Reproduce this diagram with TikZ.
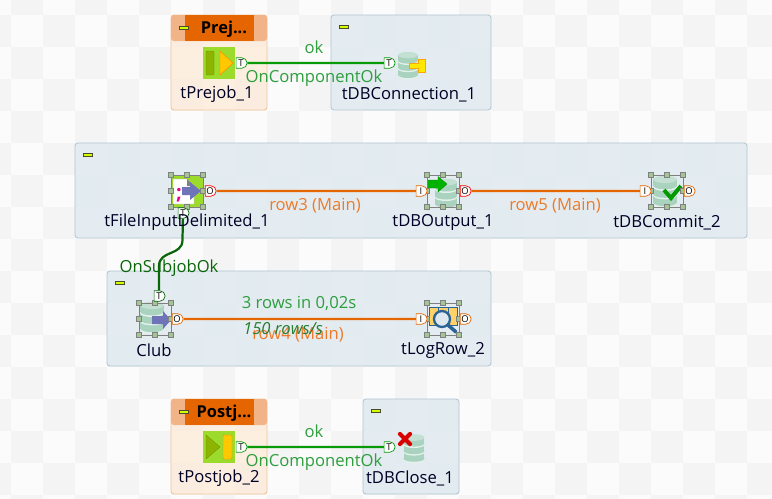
\documentclass[tikz,border=0pt]{standalone}
\usepackage{fontspec}
\setmainfont{Open Sans}
\usetikzlibrary{shapes.misc}
\definecolor{talendorange}{HTML}{E56500}
\definecolor{talendgreen}{HTML}{089A08}
\definecolor{darkgreen}{HTML}{0A660A}
\definecolor{limeicon}{HTML}{9CDB2B}
\definecolor{dbgreen}{HTML}{A9D3BE}
\definecolor{labelgreen}{HTML}{2E9E3E}
\definecolor{labelorange}{HTML}{EE7A28}
\definecolor{tilelight}{HTML}{FBFBFB}
\definecolor{tiledark}{HTML}{F4F4F4}
\definecolor{jobblue}{HTML}{DDE8EE}
\definecolor{jobblueline}{HTML}{B2C5D2}
\definecolor{jobcream}{HTML}{FDEBD8}
\definecolor{jobcreamline}{HTML}{F2C595}
\definecolor{headerside}{HTML}{F0B488}
\definecolor{oliveicon}{HTML}{8CB400}
\definecolor{goldicon}{HTML}{FFC800}
\definecolor{handlegreen}{HTML}{A3C493}
\definecolor{arrowblue}{HTML}{6F74B8}
\definecolor{lensblue}{HTML}{2A6496}
\tikzset{
  compname/.style={font=\fontsize{14.2}{16}\selectfont,text=black!85!blue,inner sep=0pt},
  linklabel/.style={font=\fontsize{14.2}{16}\selectfont,inner sep=0pt},
  port/.style={rounded rectangle,rounded rectangle left arc=none,draw=#1,fill=white,line width=.6pt,
    minimum width=.33cm,minimum height=.31cm,inner sep=0pt,font=\fontsize{8}{8}\selectfont},
  subjob/.style={draw=#1,rounded corners=2.5pt,line width=.7pt},
  handle/.style={draw=gray,fill=handlegreen,line width=.3pt},
  link/.style={line width=1.9pt},
}
\newcommand{\dbstack}[2]{% centre, then scale
  \begin{scope}[shift={(#1)},scale=#2]
  \foreach \yy in {8,0,-8} {
    \fill[white!70!dbgreen] (0,\yy+4.5) ellipse[x radius=11,y radius=3.5];
    \fill[dbgreen] (-11,\yy-3) rectangle (11,\yy+3);
    \fill[dbgreen] (0,\yy+3) ellipse[x radius=11,y radius=3.5];
  }
  \fill[dbgreen!70!white] (0,-11) ellipse[x radius=11,y radius=3.5];
  \end{scope}}
\newcommand{\handles}[1]{% selection frame round an icon
  \begin{scope}[shift={(#1)}]
  \draw[gray,line width=.5pt] (-16,-16) rectangle (16,16);
  \foreach \hx in {-16,0,16} \foreach \hy in {-16,0,16} {
    \ifnum\hx=0 \ifnum\hy=0 \else \filldraw[handle] (\hx-2.5,\hy-2.5) rectangle (\hx+2.5,\hy+2.5); \fi
    \else \filldraw[handle] (\hx-2.5,\hy-2.5) rectangle (\hx+2.5,\hy+2.5); \fi}
  \end{scope}}
\newcommand{\minus}[1]{\filldraw[draw=black!60!olive,fill=lime!70!yellow,line width=.4pt] (#1) ++(0,-1.5) rectangle ++(9,3);}
\begin{document}
\begin{tikzpicture}[x=0.03cm,y=-0.03cm]
\useasboundingbox (0,0) rectangle (772,499);
% background tiles
\fill[tilelight] (0,0) rectangle (772,499);
\foreach \i in {-1,...,24} \foreach \j in {-1,...,15} {
  \pgfmathtruncatemacro{\tileodd}{mod(\i+\j+32,2)}
  \ifnum\tileodd=1 \fill[tiledark] (11+32*\i,15+32*\j) rectangle ++(32,32); \fi
}
% subjobs
\fill[jobcream,fill opacity=.75,rounded corners=2.5pt] (171,15) rectangle (267,110);
\fill[jobcream,fill opacity=.75,rounded corners=2.5pt] (171,399) rectangle (267,494);
\draw[subjob=jobcreamline] (171,15) rectangle (267,110);
\draw[subjob=jobcreamline] (171,399) rectangle (267,494);
\foreach \xa/\ya/\xb/\yb in {331/15/491/110,75/143/747/238,107/271/491/366,363/399/459/494} {
  \fill[jobblue,fill opacity=.75,rounded corners=2.5pt] (\xa,\ya) rectangle (\xb,\yb);
  \draw[subjob=jobblueline] (\xa,\ya) rectangle (\xb,\yb);
}
% headers
\foreach \ya in {15,399} {
  \fill[headerside,rounded corners=2.5pt] (171,\ya) rectangle (267,\ya+26);
  \fill[talendorange] (185,\ya) rectangle (254,\ya+26);
}
\node[font=\fontsize{14}{16}\selectfont\bfseries,inner sep=0pt] (prejobtitle) at (224,29) {Prej...};
\node[font=\fontsize{14}{16}\selectfont\bfseries,inner sep=0pt] (postjobtitle) at (224,413) {Postj...};
\minus{179,28} \minus{339,27} \minus{83,155} \minus{115,283} \minus{179,412} \minus{371,411}
% icons
\fill[limeicon] (203,47) rectangle (235,79);
\filldraw[fill=oliveicon,draw=oliveicon!80!black,line width=.3pt,rounded corners=1pt] (206,51) rectangle (214,75);
\filldraw[fill=goldicon,draw=orange,line width=.3pt] (220,51) -- (233,63) -- (220,75) -- cycle;
\fill[limeicon] (203,431) rectangle (235,463);
\filldraw[fill=oliveicon,draw=oliveicon!80!black,line width=.3pt] (206,435) -- (220,447) -- (206,459) -- cycle;
\filldraw[fill=goldicon,draw=orange,line width=.3pt,rounded corners=1pt] (223,435) rectangle (232,459);
\dbstack{408,65}{.9}
\filldraw[fill=yellow!90!orange,draw=orange!70!yellow,line width=.5pt] (409,63.5) -- (418,63.5) -- (418,59.5) -- (425,59.5) -- (425,72) -- (418,72) -- (418,68.5) -- (409,68.5) -- cycle;
\dbstack{414,448}{.95}
\draw[red!85!black,line width=3.6pt,line cap=round] (400,434) -- (410,444) (410,434) -- (400,444);
% tFileInputDelimited
\fill[limeicon] (171,175) rectangle (204,207);
\filldraw[fill=white,draw=gray!70,line width=.3pt] (173,179) -- (187,179) -- (194,186) -- (194,204) -- (173,204) -- cycle;
\fill[gray] (187,179) -- (194,186) -- (187,186) -- cycle;
\node[text=magenta,font=\fontsize{17}{17}\selectfont\bfseries,inner sep=0pt] (semicolon) at (179,195) {;};
\fill[arrowblue] (190,187) -- (190,182) -- (201,191) -- (190,200) -- (190,195) -- (182,195) -- (182,187) -- cycle;
\handles{187,191}
% tDBOutput
\dbstack{446,193}{1}
\filldraw[fill=green!70!black,draw=green!55!black,line width=.3pt] (428,188) -- (428,180) -- (438,180) -- (438,176.5) -- (447,184) -- (438,192) -- (438,188) -- cycle;
\handles{443,191}
% tDBCommit
\dbstack{665,191}{1.05}
\draw[green!60!black,line width=3.4pt] (664,190) -- (671,198) -- (681,186);
\handles{667,191}
% Club
\dbstack{152,317}{1.05}
\fill[arrowblue] (152,316) -- (163,316) -- (163,311) -- (171,320) -- (163,329) -- (163,324) -- (152,324) -- cycle;
\handles{155,319}
% tLogRow
\filldraw[fill=orange!60!yellow!60!white,draw=lensblue,line width=.5pt] (429,307) rectangle (457,325);
\draw[lensblue,line width=.5pt] (438,307) -- (438,313) (448,307) -- (448,313);
\filldraw[draw=lensblue,line width=2pt,fill=white!85!lensblue] (442,319) circle[radius=8];
\draw[lensblue,line width=3pt,line cap=round] (448,325) -- (456,332);
\handles{443,319}
% ports
\node[port=talendgreen] (prejobout) at (241,63) {T};
\node[port=talendgreen] (connin) at (389,63) {T};
\node[port=talendgreen] (postjobout) at (241,447) {T};
\node[port=talendgreen] (closein) at (389,447) {T};
\node[port=red] (fileout) at (210,191) {O};
\node[port=darkgreen] (filesub) at (183,213) {T};
\node[port=talendorange] (outputin) at (421,191) {I};
\node[port=red] (outputout) at (465,191) {O};
\node[port=talendorange] (commitin) at (645,191) {I};
\node[port=talendorange] (commitout) at (689,191) {O};
\node[port=darkgreen] (clubsub) at (159,296) {T};
\node[port=talendorange] (clubout) at (177,319) {O};
\node[port=talendorange] (login) at (421,319) {I};
\node[port=talendorange] (logout) at (465,319) {O};
\coordinate (bendtop) at (182.5,240);
\coordinate (bendbot) at (159,266);
% links
\draw[link,talendgreen] (prejobout) -- (connin);
\draw[link,talendgreen] (postjobout) -- (closein);
\draw[link,talendorange] (fileout) -- (outputin);
\draw[link,talendorange] (outputout) -- (commitin);
\draw[link,talendorange] (clubout) -- (login);
\draw[link,darkgreen] (filesub) -- (bendtop) .. controls (182.5,256) and (159,250) .. (bendbot) -- (clubsub);
% labels
\node[compname] (prejobname) at (217,94.5) {tPrejob\_1};
\node[compname] (connname) at (409,94.5) {tDBConnection\_1};
\node[compname] (filename) at (187,222.5) {tFileInputDelimited\_1};
\node[compname] (outputname) at (443,222.5) {tDBOutput\_1};
\node[compname] (commitname) at (667,222.5) {tDBCommit\_2};
\node[compname] (clubname) at (154,350) {Club};
\node[compname] (logname) at (443,350.5) {tLogRow\_2};
\node[compname] (postjobname) at (219,478.5) {tPostjob\_2};
\node[compname] (closename) at (410,478.5) {tDBClose\_1};
\node[linklabel,text=labelgreen] (okone) at (314,47) {ok};
\node[linklabel,text=labelgreen] (oktwo) at (314,431) {ok};
\node[linklabel,text=labelgreen] (compokone) at (314,78) {OnComponentOk};
\node[linklabel,text=labelgreen] (compoktwo) at (314,462) {OnComponentOk};
\node[linklabel,text=darkgreen] (subok) at (169,268) {OnSubjobOk};
\node[linklabel,text=labelorange] (rowthree) at (315,206) {row3 (Main)};
\node[linklabel,text=labelorange] (rowfive) at (555,206) {row5 (Main)};
\node[linklabel,text=labelorange] (rowfour) at (298,335) {row4 (Main)};
\node[linklabel,text=labelgreen] (rowcount) at (299,303) {3 rows in 0,02s};
\node[linklabel,text=labelgreen!80!black,font=\fontsize{14.2}{16}\selectfont\itshape] (rowspeed) at (283,329) {150 rows/s};
\end{tikzpicture}
\end{document}
